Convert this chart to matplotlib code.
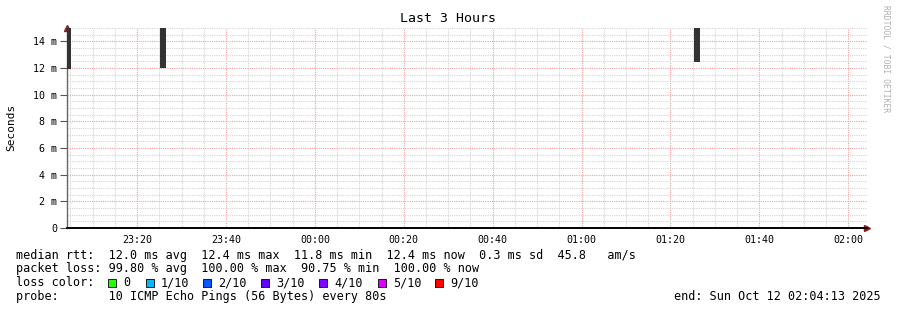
import matplotlib
matplotlib.use('Agg')
import matplotlib.pyplot as plt
from matplotlib.patches import Rectangle

W, H = 897, 310

# --- data (times as clock strings, rtt in ms) ---
bar_start = ["23:03:50", "23:25:09", "01:25:20"]
bar_min = [11.9, 12.0, 12.45]
bar_max = [15.0, 15.0, 15.0]
step_sec = 80

xtick_labels = ["23:20", "23:40", "00:00", "00:20", "00:40", "01:00", "01:20", "01:40", "02:00"]
ytick_vals = [0, 2, 4, 6, 8, 10, 12, 14]
ytick_labels = ["0", "2 m", "4 m", "6 m", "8 m", "10 m", "12 m", "14 m"]

loss_labels = ["0", "1/10", "2/10", "3/10", "4/10", "5/10", "9/10"]
loss_colors = ['#26ff00', '#00b8ff', '#0059ff', '#5e00ff', '#7e00ff', '#dd00ff', '#ff0000']

line_rtt = "median rtt:  12.0 ms avg  12.4 ms max  11.8 ms min  12.4 ms now  0.3 ms sd  45.8   am/s"
line_loss = "packet loss: 99.80 % avg  100.00 % max  90.75 % min  100.00 % now"
line_probe = "probe:       10 ICMP Echo Pings (56 Bytes) every 80s"
line_end = "end: Sun Oct 12 02:04:13 2025"


def to_min(s):
    # minutes since 23:00, wrapping past midnight
    h, m, sec = [int(v) for v in s.split(':')]
    if h < 12:
        h += 24
    return (h - 23) * 60 + m + sec / 60.0


t_start = to_min("23:04:13")
t_end = to_min("02:04:13")

mono = 'DejaVu Sans Mono'
plt.rcParams['font.family'] = mono

fig = plt.figure(figsize=(W / 100, H / 100), dpi=100)
ax = fig.add_axes([67 / W, (H - 228) / H, 800 / W, 200 / H])

xs = [to_min(s) for s in bar_start]
ax.bar(xs, [b - a for a, b in zip(bar_min, bar_max)], bottom=bar_min,
       width=step_sec / 60.0, align='edge', color='#333333', linewidth=0, zorder=3)

ax.set_xlim(t_start, t_end)
ax.set_ylim(0, 15)

major_x = [20 * (i + 1) for i in range(len(xtick_labels))]
ax.set_xticks(major_x)
ax.set_xticklabels(xtick_labels)
ax.set_xticks([m for m in range(5, 185, 5)], minor=True)
ax.set_yticks(ytick_vals)
ax.set_yticklabels(ytick_labels)
ax.set_yticks([v * 0.5 for v in range(0, 31)], minor=True)

ax.grid(True, which='minor', color='#d4d4d4', linestyle=(0, (1, 1)), linewidth=0.8)
ax.grid(True, which='major', color='#f4a0a0', linestyle=(0, (1, 1)), linewidth=0.8)
ax.set_axisbelow(True)

ax.tick_params(axis='both', which='both', labelsize=7.2, colors='black')
ax.tick_params(axis='x', which='both', length=0, pad=5)
ax.tick_params(axis='y', which='major', length=5, width=0.8, color='#555555', pad=2)
ax.tick_params(axis='y', which='minor', length=0)

for s in ['top', 'right']:
    ax.spines[s].set_visible(False)
ax.spines['left'].set_color('#666666')
ax.spines['bottom'].set_color('black')
ax.spines['left'].set_linewidth(1)
ax.spines['bottom'].set_linewidth(1.2)

# axis arrows
ax.plot([0], [1.0], marker='^', color='#8b1a1a', markersize=4, transform=ax.transAxes, clip_on=False)
ax.plot([1.0], [0], marker='>', color='#8b1a1a', markersize=4, transform=ax.transAxes, clip_on=False)
ax.plot([0, 1.0], [0, 0], color='black', linewidth=1.2, transform=ax.transAxes, clip_on=False)


def ftext(x, y, s, **kw):
    fig.text(x / W, 1 - y / H, s, **kw)


ftext(448, 19, "Last 3 Hours", ha='center', va='center', fontsize=9.5)
ftext(11, 127, "Seconds", ha='center', va='center', rotation=90, fontsize=8)
ftext(886, 5, "RRDTOOL / TOBI OETIKER", ha='center', va='top', rotation=270,
      fontsize=5.8, color='#b0b0b0')

fs = 8.5
ftext(16, 255, line_rtt, ha='left', va='center', fontsize=fs)
ftext(16, 268.5, line_loss, ha='left', va='center', fontsize=fs)
ftext(16, 282.5, "loss color:", ha='left', va='center', fontsize=fs)
ftext(16, 296.5, line_probe, ha='left', va='center', fontsize=fs)
ftext(881, 296.5, line_end, ha='right', va='center', fontsize=fs)

sq_x = [108, 146, 203, 261, 319, 378, 435]
for px, lab, col in zip(sq_x, loss_labels, loss_colors):
    fig.patches.append(Rectangle((px / W, 1 - 287 / H), 8 / W, 8 / H,
                                 transform=fig.transFigure, facecolor=col,
                                 edgecolor='black', linewidth=0.6))
    ftext(px + 15, 282.5, lab, ha='left', va='center', fontsize=fs)

fig.savefig('out.png', dpi=100, facecolor='white')
